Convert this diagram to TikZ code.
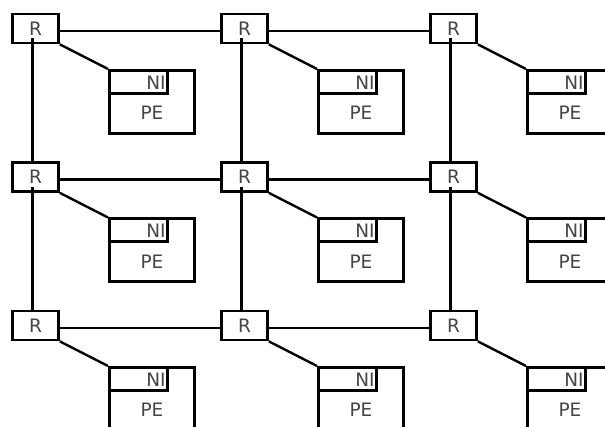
\documentclass[tikz,border=0pt]{standalone}
\usepackage{fontspec}
\setmainfont{DejaVu Sans}
\usetikzlibrary{calc}
\definecolor{txt}{HTML}{454545}
\tikzset{
  router/.style={draw, line width=2.8pt, fill=white, minimum width=46pt, minimum height=29pt, inner sep=0pt, text=txt, font=\fontsize{18.5}{18.5}\selectfont},
  pebox/.style={draw, line width=2.8pt, fill=white, minimum width=85pt, minimum height=63pt, inner sep=0pt, anchor=north west},
  nibox/.style={draw, line width=2.8pt, minimum width=58pt, minimum height=23pt, inner sep=0pt, anchor=north west},
  lbl/.style={text=txt, font=\fontsize{18.5}{18.5}\selectfont, inner sep=0pt},
  link/.style={line width=2.4pt}
}
\begin{document}
\begin{tikzpicture}[x=1pt,y=-1pt]
\useasboundingbox (0,0) rectangle (605,427);
\clip (0,0) rectangle (605,427);
\foreach \c/\cx in {1/35.5,2/244.5,3/453.5}{
  \foreach \r/\cy in {1/28.5,2/177,3/325.5}{
    \node[router] (R\c\r) at (\cx,\cy) {R};
    \node[pebox] (PE\c\r) at (\cx+72.5,\cy+40.5) {};
    \node[nibox] (NI\c\r) at (\cx+72.5,\cy+40.5) {};
    \node[lbl, anchor=east] (NIt\c\r) at ($(NI\c\r.east)+(-3,0.5)$) {NI};
    \node[lbl] (PEl\c\r) at (\cx+116.5,\cy+84.5) {PE};
    \draw[link] (R\c\r.south east) -- (PE\c\r.north west);
  }
}
% horizontal links
\foreach \r in {1,2,3}{
  \draw[link] ($(R1\r.east)+(0,2.5)$) -- ($(R2\r.west)+(0,2.5)$);
  \draw[link] ($(R2\r.east)+(0,2.5)$) -- ($(R3\r.west)+(0,2.5)$);
}
% vertical links
\foreach \c in {1,2,3}{
  \coordinate (V\c1) at ($(R\c1.center)+(-3,10)$);
  \coordinate (V\c2) at ($(R\c2.center)+(-3,10)$);
  \draw[link] (V\c1) -- ($(R\c2.north)+(-3,0)$);
  \draw[link] (V\c2) -- ($(R\c3.north)+(-3,0)$);
}
\end{tikzpicture}
\end{document}
